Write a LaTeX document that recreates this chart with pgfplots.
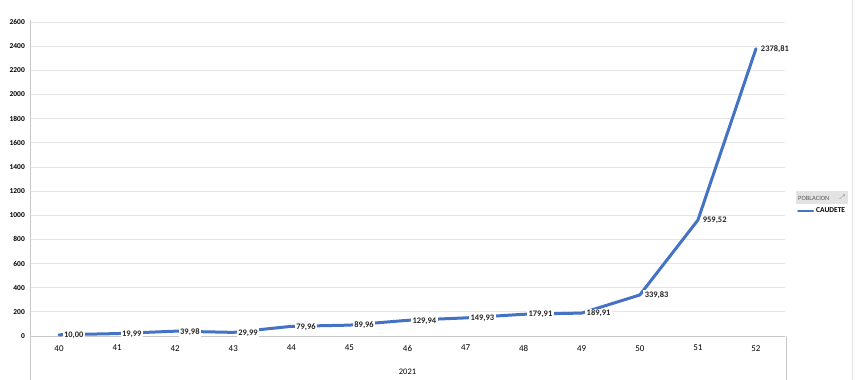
\documentclass[border=0pt]{standalone}
\usepackage{pgfplots}
\pgfplotsset{compat=1.18}
\usepackage{pgfplotstable}
\usepackage{fontspec}
\setmainfont{Carlito}
\definecolor{xlblue}{HTML}{4472C4}
\definecolor{gridc}{HTML}{E6E6E6}
\definecolor{axc}{HTML}{C8C8C8}
\pgfplotstableread{
x y lab
40 10.00 {10,00}
41 19.99 {19,99}
42 39.98 {39,98}
43 29.99 {29,99}
44 79.96 {79,96}
45 89.96 {89,96}
46 129.94 {129,94}
47 149.93 {149,93}
48 179.91 {179,91}
49 189.91 {189,91}
50 339.83 {339,83}
51 959.52 {959,52}
52 2378.81 {2378,81}
}\datatable
\begin{document}
\begin{tikzpicture}
\path[use as bounding box] (-30bp,-44bp) rectangle (834bp,336bp);
\begin{axis}[
  at={(0,0)}, anchor=south west,
  scale only axis, width=755bp, height=314bp,
  xmin=39.5, xmax=52.5, ymin=0, ymax=2600,
  xtick={40,...,52}, ytick={0,200,...,2600},
  major tick length=0pt,
  axis x line*=bottom, axis y line*=left,
  axis line style={draw=axc, line width=0.8bp},
  ymajorgrids, grid style={draw=gridc, line width=0.8bp},
  /pgf/number format/1000 sep={},
  /pgf/number format/assume math mode=true,
  yticklabel style={font=\fontsize{7.5}{8}\selectfont\bfseries, inner sep=0pt, xshift=-5bp},
  xticklabel style={font=\fontsize{9}{10}\selectfont, inner sep=0pt, anchor=north, yshift=-9bp},
  xlabel={2021},
  xlabel style={font=\fontsize{8.5}{9}\selectfont, at={(axis description cs:0.5,0)}, anchor=center, yshift=-36bp},
  clip=false,
  legend style={at={(axis description cs:1.0159,0.398)}, anchor=west, draw=none, fill=none,
    font=\fontsize{7.5}{8}\selectfont\bfseries, inner sep=0pt, row sep=0pt},
  legend cell align=left,
  legend image code/.code={\draw[xlblue, line width=2bp] (0bp,0bp) -- (15bp,0bp);},
]
\addplot[xlblue, line width=3bp, line join=round, line cap=round,
  point meta=explicit symbolic,
  nodes near coords,
  every node near coord/.append style={anchor=west, fill=white, inner sep=1.5bp, xshift=2bp, yshift=-0.5bp,
    font=\fontsize{8.5}{9}\selectfont\bfseries, text=black!85}]
  table[x=x, y=y, meta=lab] {\datatable};
\addlegendentry{CAUDETE}
\node[anchor=west, fill=gray!22, text=gray!70!black, font=\fontsize{6.5}{7}\selectfont,
  minimum width=52bp, minimum height=13bp, inner sep=1bp, text width=48bp]
  at (axis description cs:1.0146,0.4395) {POBLACION \hfill\textsuperscript{\tiny$\nearrow$}};
\end{axis}
\draw[axc, line width=0.8bp] (0bp,-44bp) -- (0bp,316bp);
\draw[axc, line width=0.8bp] (756bp,-44bp) -- (756bp,0bp);
\draw[gridc, line width=1bp] (822bp,-44bp) -- (822bp,336bp);
\end{tikzpicture}
\end{document}
